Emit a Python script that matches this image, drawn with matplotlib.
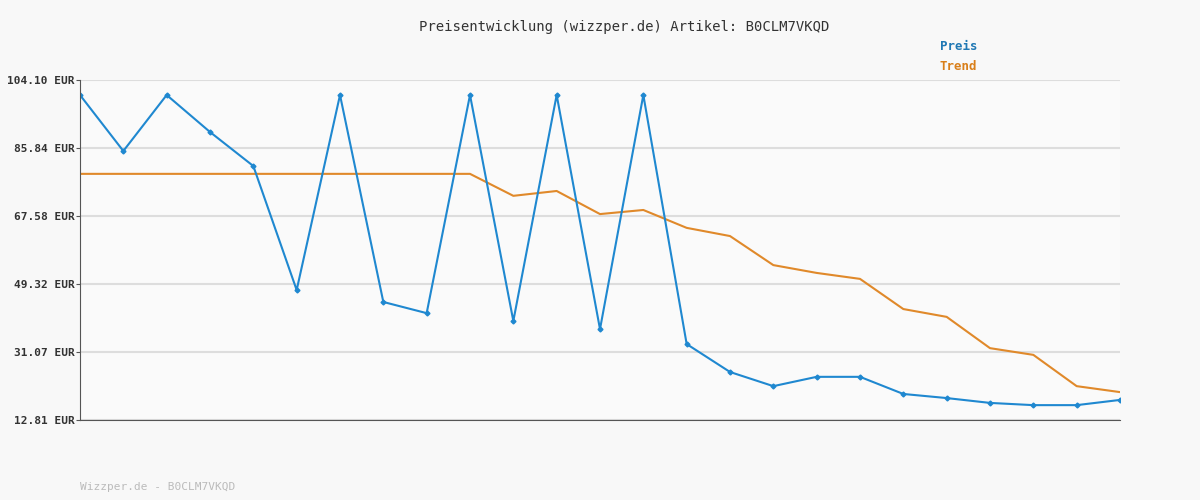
import matplotlib
matplotlib.use("Agg")
import matplotlib.pyplot as plt

# values
preis = [100.07, 85.04, 100.07, 90.14, 81.0, 47.7, 100.07, 44.5, 41.5, 100.07,
         39.4, 100.07, 37.2, 100.07, 33.2, 25.7, 21.9, 24.4, 24.4, 19.8,
         18.7, 17.4, 16.8, 16.8, 18.2]
trend = [78.9] * 10 + [73.0, 74.3, 68.1, 69.2, 64.4, 62.2, 54.4, 52.3, 50.7,
                       42.6, 40.5, 32.1, 30.3, 21.9, 20.3]
yticks = [12.81, 31.07, 49.32, 67.58, 85.84, 104.10]

plt.rcParams['font.family'] = 'DejaVu Sans Mono'
fig = plt.figure(figsize=(12, 5), dpi=100, facecolor='#f8f8f8')
ax = fig.add_axes([80/1200, 80/500, 1040/1200, 340/500])
ax.set_facecolor('#fafafa')
x = list(range(len(preis)))
ax.plot(x, trend, color='#e0892a', lw=1.5)
ax.plot(x, preis, color='#1f88d0', lw=1.5, marker='D', markersize=2.5)
ax.set_xlim(0, len(preis) - 1)
ax.set_ylim(12.81, 104.10)
ax.set_yticks(yticks)
ax.set_yticklabels([f"{v:.2f} EUR" for v in yticks], fontsize=8,
                   color='#333333', weight='bold')
ax.set_xticks([])
ax.grid(axis='y', color='#dddddd', lw=1.5)
for s in ['top', 'right']:
    ax.spines[s].set_visible(False)
ax.spines['left'].set_color('#555555')
ax.spines['bottom'].set_color('#555555')
ax.tick_params(axis='y', length=3, pad=1, color='#555555')
fig.text(0.52, 0.945, "Preisentwicklung (wizzper.de) Artikel: B0CLM7VKQD",
         ha='center', va='center', fontsize=10, color='#333333')
fig.text(940/1200, 1 - 47/500, "Preis", fontsize=9, color='#1f78b4',
         weight='bold', va='center')
fig.text(940/1200, 1 - 67/500, "Trend", fontsize=9, color='#d97f1a',
         weight='bold', va='center')
fig.text(80/1200, 1 - 487/500, "Wizzper.de - B0CLM7VKQD", fontsize=8,
         color='#bbbbbb', va='center')
fig.savefig("out.png", facecolor=fig.get_facecolor())
